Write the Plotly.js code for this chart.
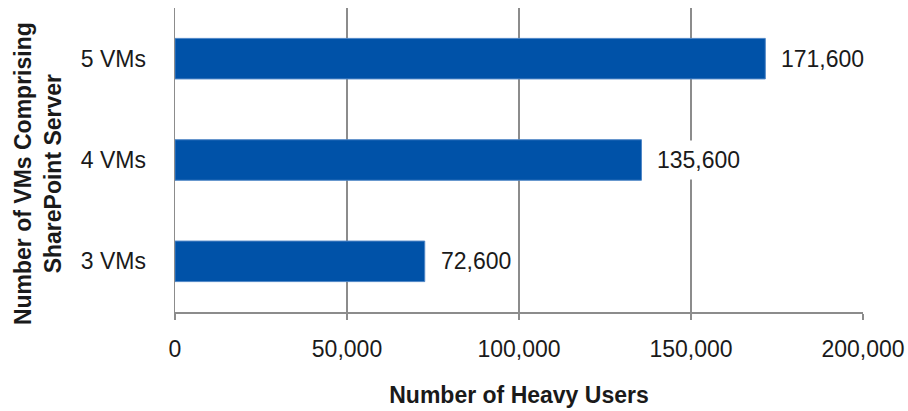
<!DOCTYPE html>
<html><head><meta charset="utf-8">
<script src="https://cdn.plot.ly/plotly-3.0.1.min.js"></script>
<style>body{margin:0;background:#fff}#c{width:908px;height:411px}</style>
</head><body><div id="c"></div>
<script>
const categories = ["3 VMs", "4 VMs", "5 VMs"];
const heavyUsers = [72600, 135600, 171600];
const xTicks = [0, 50000, 100000, 150000, 200000];
const xTickLabels = ["0", "50,000", "100,000", "150,000", "200,000"];
const xTitle = "Number of Heavy Users";
const yTitle = "Number of VMs Comprising<br>SharePoint Server";

const fmt = v => v.toLocaleString("en-US");
const font = "Liberation Sans, Arial, sans-serif";

const trace = {
  type: "bar", orientation: "h",
  x: heavyUsers, y: categories,
  marker: {color: "#0052A8", line: {color: "#4F86C6", width: 1}},
  hoverinfo: "skip"
};

const annotations = heavyUsers.map((v, i) => ({
  x: v, y: categories[i], xref: "x", yref: "y",
  text: fmt(v), showarrow: false, xanchor: "left", xshift: 9,
  bgcolor: "#ffffff", borderpad: 6,
  font: {family: font, size: 23, color: "#1a1a1a"}
}));
annotations.push({
  xref: "paper", yref: "paper", x: -0.2, y: 0.455,
  text: "<b>" + yTitle + "</b>", textangle: -90, showarrow: false,
  xanchor: "center", yanchor: "middle",
  font: {family: font, size: 23, color: "#1a1a1a"}
});

const layout = {
  width: 908, height: 411,
  margin: {l: 175, r: 45, t: 8, b: 99},
  paper_bgcolor: "#fff", plot_bgcolor: "#fff",
  bargap: 0.6, showlegend: false,
  font: {family: font, size: 23, color: "#1a1a1a"},
  xaxis: {
    range: [0, 200000], tickvals: xTicks, ticktext: xTickLabels,
    showgrid: true, gridcolor: "#8c8c8c", gridwidth: 1.5,
    showline: true, linecolor: "#8c8c8c", linewidth: 1.5,
    ticks: "outside", ticklen: 6, tickcolor: "#8c8c8c", tickwidth: 1.5,
    ticklabelstandoff: 10, zeroline: false, fixedrange: true,
    title: {text: "<b>" + xTitle + "</b>", standoff: 26,
            font: {family: font, size: 23, color: "#1a1a1a"}}
  },
  yaxis: {
    categoryorder: "array", categoryarray: categories,
    showgrid: false, showline: true, linecolor: "#8c8c8c", linewidth: 1.5,
    ticks: "", ticklabelstandoff: 23, zeroline: false, fixedrange: true
  },
  annotations: annotations
};

Plotly.newPlot("c", [trace], layout, {displayModeBar: false, staticPlot: true});
</script></body></html>
